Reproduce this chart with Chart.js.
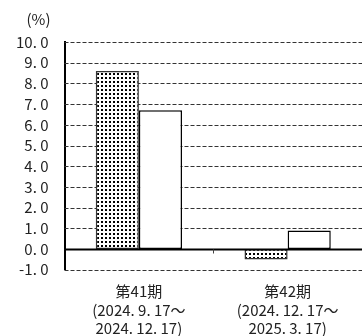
<!DOCTYPE html>
<html>
<head>
<meta charset="utf-8">
<script src="https://cdn.jsdelivr.net/npm/chart.js@4"></script>
<style>
  html, body { margin: 0; padding: 0; background: #fff; }
  #wrap { width: 362px; height: 336px; position: relative; }
</style>
</head>
<body>
<div id="wrap"><canvas id="c"></canvas></div>
<script>
// Periods on the x axis (multi-line labels)
const periods = [
  ['第41期', '(2024. 9. 17～', '2024. 12. 17)'],
  ['第42期', '(2024. 12. 17～', '2025. 3. 17)']
];
// Two series per period (%)
const seriesDotted = [8.6, -0.5];
const seriesPlain = [6.7, 0.9];
// Value axis range
const yMin = -1.0;
const yMax = 10.0;
const yStep = 1.0;
const unitLabel = '(%)';

const FONT = '"Noto Sans CJK JP", "Noto Sans", sans-serif';

// Small dot fill used for the first series
function dotPattern() {
  const p = document.createElement('canvas');
  p.width = 4; p.height = 4;
  const g = p.getContext('2d');
  g.fillStyle = '#fff';
  g.fillRect(0, 0, 4, 4);
  g.fillStyle = '#000';
  g.fillRect(1, 1, 2, 2);
  return g.createPattern(p, 'repeat');
}

// Dashed horizontal grid lines at every value tick
const dashedGrid = {
  id: 'dashedGrid',
  beforeDatasetsDraw(chart) {
    const { ctx, chartArea, scales: { y } } = chart;
    ctx.save();
    ctx.strokeStyle = '#333';
    ctx.lineWidth = 1;
    ctx.setLineDash([4, 2]);
    y.ticks.forEach(t => {
      const py = Math.round(y.getPixelForValue(t.value)) + 0.5;
      ctx.beginPath();
      ctx.moveTo(chartArea.left, py);
      ctx.lineTo(chartArea.right, py);
      ctx.stroke();
    });
    ctx.restore();
  }
};

// Solid zero line, category separator tick and unit caption
const overlay = {
  id: 'overlay',
  afterDatasetsDraw(chart) {
    const { ctx, chartArea, scales: { x, y } } = chart;
    const y0 = Math.round(y.getPixelForValue(0)) + 0.5;
    ctx.save();
    ctx.strokeStyle = '#000';
    ctx.lineWidth = 2;
    ctx.beginPath();
    ctx.moveTo(chartArea.left, y0);
    ctx.lineTo(chartArea.right, y0);
    ctx.stroke();
    const mid = Math.round((x.getPixelForValue(0) + x.getPixelForValue(1)) / 2) + 0.5;
    ctx.lineWidth = 1;
    ctx.strokeStyle = '#444';
    ctx.beginPath();
    ctx.moveTo(mid, y0);
    ctx.lineTo(mid, y0 + 4);
    ctx.stroke();
    ctx.fillStyle = '#222';
    ctx.font = '15px ' + FONT;
    ctx.textAlign = 'right';
    ctx.textBaseline = 'middle';
    ctx.fillText(unitLabel, y.right - 14, chartArea.top - 23);
    ctx.restore();
  }
};

new Chart(document.getElementById('c'), {
  type: 'bar',
  data: {
    labels: periods,
    datasets: [
      {
        data: seriesDotted,
        backgroundColor: dotPattern(),
        borderColor: '#333',
        borderWidth: 1.5,
        borderSkipped: false
      },
      {
        data: seriesPlain,
        backgroundColor: '#fff',
        borderColor: '#000',
        borderWidth: 1.5,
        borderSkipped: false
      }
    ]
  },
  options: {
    responsive: true,
    maintainAspectRatio: false,
    animation: false,
    layout: { padding: { top: 42, left: 0, right: -2, bottom: -14 } },
    plugins: {
      legend: { display: false },
      tooltip: { enabled: false }
    },
    datasets: {
      bar: { categoryPercentage: 0.58, barPercentage: 1.0 }
    },
    scales: {
      x: {
        grid: { display: false, drawTicks: false },
        border: { display: false },
        ticks: {
          color: '#222',
          font: { family: FONT, size: 15, lineHeight: 1.25 },
          padding: 12,
          maxRotation: 0,
          autoSkip: false
        }
      },
      y: {
        min: yMin,
        max: yMax,
        grid: { display: false, drawTicks: false },
        border: { display: true, color: '#000', width: 2 },
        ticks: {
          stepSize: yStep,
          autoSkip: false,
          color: '#222',
          padding: 16,
          font: { family: FONT, size: 15 },
          callback: v => v.toFixed(1).replace('.', '. ')
        }
      }
    }
  },
  plugins: [dashedGrid, overlay]
});
</script>
</body>
</html>
